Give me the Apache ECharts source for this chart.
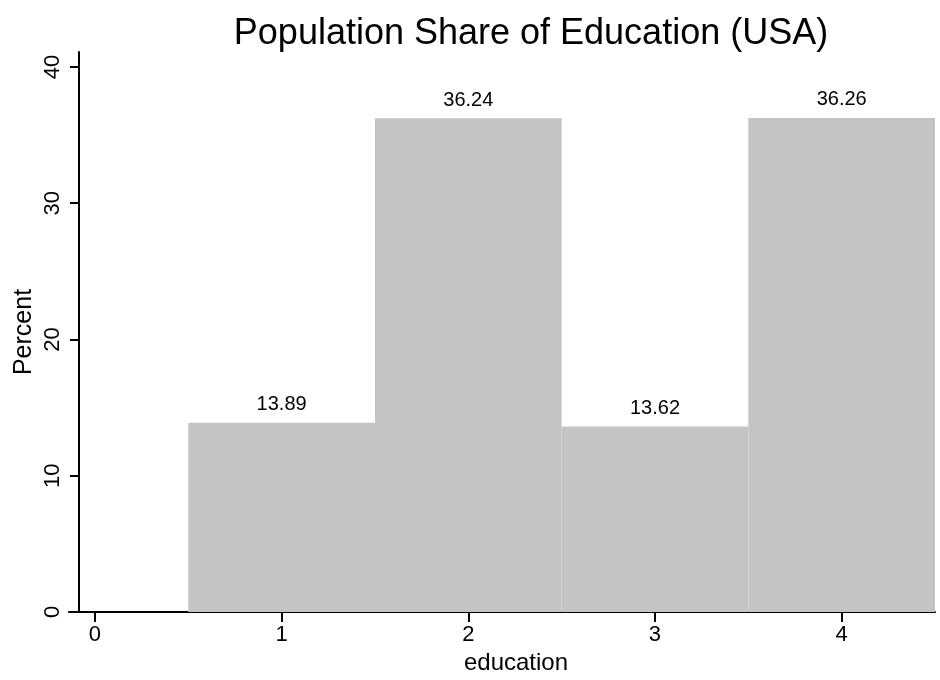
<!DOCTYPE html>
<html>
<head>
<meta charset="utf-8">
<title>Population Share of Education (USA)</title>
<script src="https://cdn.jsdelivr.net/npm/echarts@6/dist/echarts.min.js"></script>
<style>
  html, body { margin: 0; padding: 0; background: #ffffff; }
  #chart { width: 940px; height: 680px; }
</style>
</head>
<body>
<div id="chart"></div>
<script>
// Education levels (bar centres) and the percent share of each
const educationLevels = [1, 2, 3, 4];
const percentShare = [13.89, 36.24, 13.62, 36.26];
const xTickValues = [0, 1, 2, 3, 4];
const yTickValues = [0, 10, 20, 30, 40];

const FONT = '"Liberation Sans", Arial, Helvetica, sans-serif';
const BAR_FILL = '#c4c4c4';

const chart = echarts.init(document.getElementById('chart'), null, { renderer: 'canvas' });

const barData = educationLevels.map((lvl, i) => [lvl, percentShare[i]]);

chart.setOption({
  animation: false,
  backgroundColor: '#ffffff',
  title: {
    text: 'Population Share of Education (USA)',
    left: 526,
    top: 11,
    textAlign: 'center',
    textStyle: { fontFamily: FONT, fontSize: 36, fontWeight: 'normal', color: '#000' }
  },
  grid: { left: 69, right: 5, top: 52, bottom: 68, outerBoundsMode: 'none' },
  xAxis: {
    type: 'value',
    min: -0.139,
    max: 4.5,
    splitLine: { show: false },
    axisLine: { onZero: false, lineStyle: { color: '#000', width: 2 } },
    axisTick: { show: true, length: 10, lineStyle: { color: '#000', width: 2 }, customValues: xTickValues },
    axisLabel: { fontFamily: FONT, fontSize: 22, color: '#000', margin: 12, customValues: xTickValues },
    name: 'education',
    nameLocation: 'middle',
    nameGap: 38,
    nameTextStyle: { fontFamily: FONT, fontSize: 24, color: '#000', padding: [0, 0, 0, 28] }
  },
  yAxis: {
    type: 'value',
    min: 0,
    max: 41.1,
    offset: -10,
    splitLine: { show: false },
    axisLine: { show: true, onZero: false, lineStyle: { color: '#000', width: 2 } },
    axisTick: { show: true, length: 9, lineStyle: { color: '#000', width: 2 }, customValues: yTickValues },
    axisLabel: { fontFamily: FONT, fontSize: 22, color: '#000', rotate: 90, margin: 15, customValues: yTickValues },
    name: 'Percent',
    nameLocation: 'middle',
    nameRotate: 90,
    nameGap: 42,
    nameMoveOverlap: false,
    nameTextStyle: { fontFamily: FONT, fontSize: 25, color: '#000' }
  },
  series: [{
    type: 'custom',
    data: barData,
    clip: false,
    renderItem: function (params, api) {
      const x = api.value(0);
      const y = api.value(1);
      const topLeft = api.coord([x - 0.5, y]);
      const bottomRight = api.coord([x + 0.5, 0]);
      return {
        type: 'group',
        children: [
          {
            type: 'rect',
            shape: {
              x: topLeft[0],
              y: topLeft[1],
              width: bottomRight[0] - topLeft[0],
              height: bottomRight[1] - topLeft[1]
            },
            style: { fill: BAR_FILL }
          },
          {
            type: 'text',
            x: (topLeft[0] + bottomRight[0]) / 2,
            y: topLeft[1] - 8,
            style: {
              text: y.toFixed(2),
              fontFamily: FONT,
              fontSize: 20,
              fill: '#000',
              align: 'center',
              verticalAlign: 'bottom'
            }
          }
        ]
      };
    },
    z: 1
  }]
});
</script>
</body>
</html>
